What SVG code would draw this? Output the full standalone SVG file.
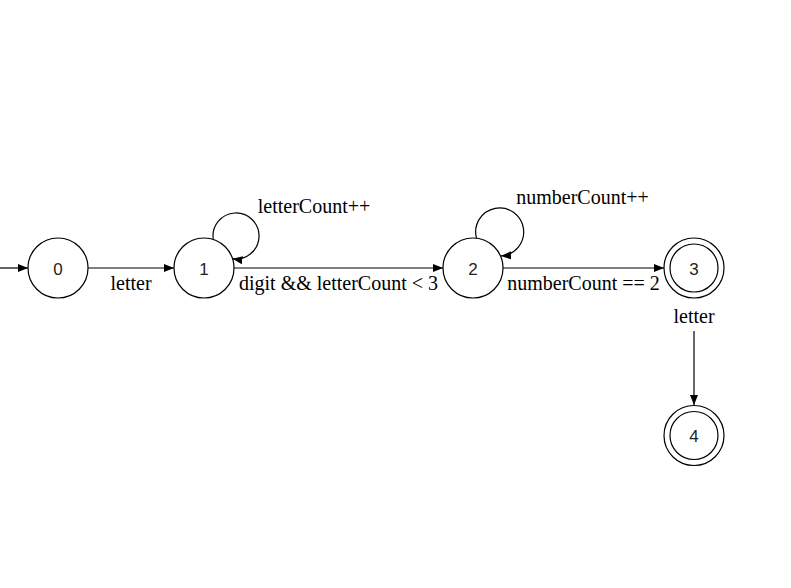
<svg xmlns="http://www.w3.org/2000/svg" width="791" height="588" viewBox="0 0 791 588">
<defs>
<marker id="arr" viewBox="0 0 10 10" refX="10" refY="5" markerWidth="10" markerHeight="10" markerUnits="userSpaceOnUse" orient="auto">
<path d="M0,1 L10,5 L0,9 Z" fill="#000"/>
</marker>
<style>
.st{fill:#fff;stroke:#000;stroke-width:1.2}
.lbl{font-family:'Liberation Serif','Times New Roman',serif;font-size:20px;fill:#000}
.num{font-family:'Liberation Sans',Arial,sans-serif;font-size:17px;fill:#222;text-anchor:middle}
.ed{fill:none;stroke:#000;stroke-width:1.2;marker-end:url(#arr)}
</style>
</defs>
<rect width="791" height="588" fill="#fff"/>
<g id="connectors">
<line class="ed" x1="0" y1="268" x2="28" y2="268"/>
<line class="ed" x1="88" y1="268" x2="174" y2="268"/>
<line class="ed" x1="234" y1="268" x2="443" y2="268"/>
<line class="ed" x1="503" y1="268" x2="664" y2="268"/>
<line class="ed" x1="694" y1="331" x2="694" y2="405"/>
<path class="ed" d="M213.3,239.5 A23,23 0 1 1 232.5,258.7"/>
<path class="ed" d="M476.5,238.1 A24,24 0 1 1 501,255.9"/>
<text class="lbl" x="131" y="290" text-anchor="middle">letter</text>
<text class="lbl" x="338.5" y="290" text-anchor="middle">digit &amp;&amp; letterCount &lt; 3</text>
<text class="lbl" x="583.5" y="290" text-anchor="middle">numberCount == 2</text>
<text class="lbl" x="694" y="323" text-anchor="middle">letter</text>
<text class="lbl" x="314" y="213" text-anchor="middle">letterCount++</text>
<text class="lbl" x="582.5" y="204" text-anchor="middle">numberCount++</text>
</g>
<g id="node0"><circle class="st" cx="58" cy="268" r="30"/><text class="num" x="58" y="274.5">0</text></g>
<g id="node1"><circle class="st" cx="204" cy="268" r="30"/><text class="num" x="204" y="274.5">1</text></g>
<g id="node2"><circle class="st" cx="473" cy="268" r="30"/><text class="num" x="473" y="274.5">2</text></g>
<g id="node3"><circle class="st" cx="694" cy="268" r="30"/><circle class="st" cx="694" cy="268" r="24"/><text class="num" x="694" y="274.5">3</text></g>
<g id="node4"><circle class="st" cx="694" cy="435.5" r="30"/><circle class="st" cx="694" cy="435.5" r="24"/><text class="num" x="694" y="442">4</text></g>
</svg>
